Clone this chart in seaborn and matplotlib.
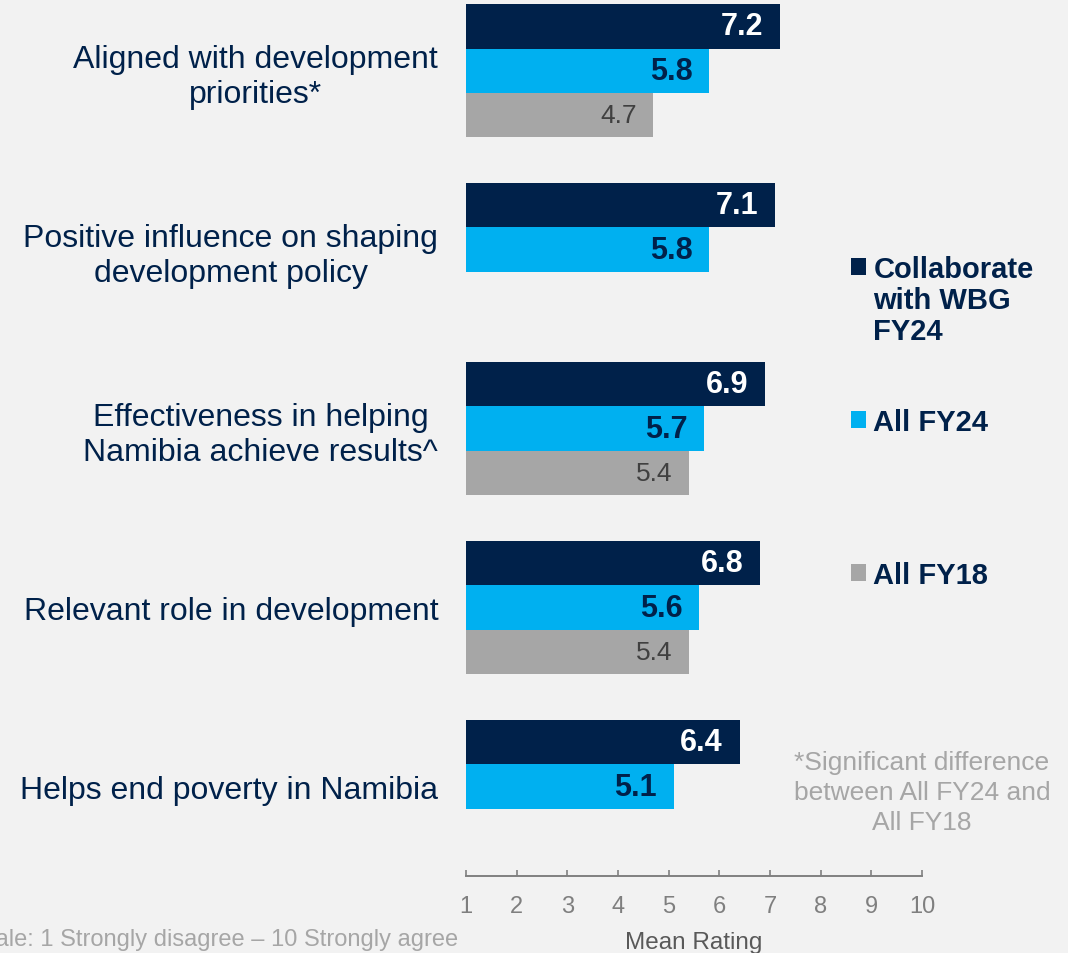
import matplotlib
matplotlib.use("Agg")
import matplotlib.pyplot as plt
import seaborn as sns
import pandas as pd
import numpy as np

# ---- data ----
categories = [
    "Aligned with development\npriorities*",
    "Positive influence on shaping\ndevelopment policy",
    "Effectiveness in helping\nNamibia achieve results^",
    "Relevant role in development",
    "Helps end poverty in Namibia",
]
series = ["Collaborate with WBG FY24", "All FY24", "All FY18"]
legend_first_lines = ["Collaborate", "All FY24", "All FY18"]
legend_rest_lines = ["with WBG\nFY24", "", ""]
collab_fy24 = [7.2, 7.1, 6.9, 6.8, 6.4]
all_fy24 = [5.8, 5.8, 5.7, 5.6, 5.1]
all_fy18 = [4.7, np.nan, 5.4, 5.4, np.nan]
x_ticks = [1, 2, 3, 4, 5, 6, 7, 8, 9, 10]

NAVY = "#00214A"
CYAN = "#00B0F0"
GREY = "#A6A6A6"
BG = "#F2F2F2"
colors = [NAVY, CYAN, GREY]

rows = []
for s, vals in zip(series, [collab_fy24, all_fy24, all_fy18]):
    for c, v in zip(categories, vals):
        rows.append({"Category": c, "Series": s, "Value": v})
df = pd.DataFrame(rows).dropna()

sns.set_theme(style="white")
plt.rcParams["font.family"] = ["Liberation Sans", "DejaVu Sans"]

fig = plt.figure(figsize=(10.68, 9.54), dpi=100, facecolor=BG)
ax = fig.add_axes([466 / 1068, 1 - 877 / 954, 456 / 1068, 877 / 954])
ax.set_facecolor(BG)

sns.barplot(data=df, y="Category", x="Value", hue="Series",
            order=categories, hue_order=series, palette=colors,
            orient="h", width=0.74, saturation=1, legend=True, ax=ax,
            linewidth=0)

handles, _ = ax.get_legend_handles_labels()
ax.get_legend().remove()

ax.set_xlim(1, 10)
ax.set_ylim(4.5, -0.4)
ax.set_xticks(x_ticks)
ax.set_xticklabels([str(t) for t in x_ticks])

for sp in ["top", "right", "left"]:
    ax.spines[sp].set_visible(False)
ax.spines["bottom"].set_color("#808080")
ax.spines["bottom"].set_linewidth(1.4)
ax.tick_params(axis="x", direction="in", length=4.5, width=1.2, color="#808080",
               labelsize=17, labelcolor="#7F7F7F", pad=14, bottom=True)
ax.tick_params(axis="y", length=0, pad=20, labelsize=23, labelcolor=NAVY)
for lbl in ax.get_yticklabels():
    lbl.set_linespacing(1.2)
    lbl.set_multialignment("center")

ax.set_ylabel("")
ax.set_xlabel("Mean Rating", fontsize=17.5, color="#595959", labelpad=10)

# value labels
label_styles = [
    dict(color="white", fontweight="bold", fontsize=22),
    dict(color=NAVY, fontweight="bold", fontsize=22),
    dict(color="#404040", fontweight="normal", fontsize=19),
]
for cont, st in zip(ax.containers, label_styles):
    anns = ax.bar_label(cont, fmt="%.1f", label_type="edge", padding=-12, **st)
    for a in anns:
        a.set_ha("right")

# legends (one per series)
leg_y = [256 / 954, 409 / 954, 562 / 954]
for h, lab, rest, yy in zip(handles, legend_first_lines, legend_rest_lines, leg_y):
    lg = fig.legend([h], [lab], loc="upper left",
                    bbox_to_anchor=(851 / 1068, 1 - yy), frameon=False,
                    prop={"family": ["Liberation Sans", "DejaVu Sans"],
                          "weight": "bold", "size": 21},
                    handlelength=0.52, handleheight=0.52, handletextpad=0.25,
                    borderpad=0, borderaxespad=0, labelcolor=NAVY)
    if rest:
        fig.text(873 / 1068, 1 - 316.5 / 954, rest, ha="left", va="center",
                 fontsize=21, fontweight="bold", color=NAVY, linespacing=1.18)

fig.text(922 / 1068, 1 - 793 / 954,
         "*Significant difference\nbetween All FY24 and\nAll FY18",
         ha="center", va="center", fontsize=19, color="#A6A6A6", linespacing=1.34)

fig.text(458 / 1068, 1 - 940 / 954,
         "Scale: 1 Strongly disagree \u2013 10 Strongly agree",
         ha="right", va="center", fontsize=17, color="#A6A6A6")

fig.savefig("out.png", dpi=100, facecolor=BG)
